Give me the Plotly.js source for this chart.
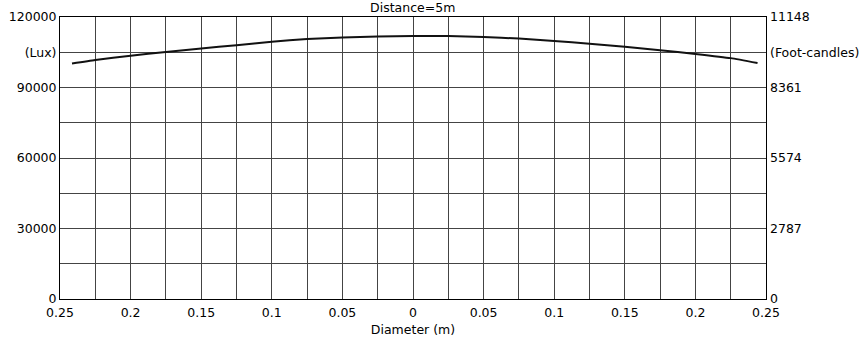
<!DOCTYPE html>
<html>
<head>
<meta charset="utf-8">
<script src="https://cdn.plot.ly/plotly-3.0.1.min.js"></script>
<style>html,body{margin:0;padding:0;background:#fff;}#chart{width:866px;height:345px;}</style>
</head>
<body>
<div id="chart"></div>
<script>
// Diameter positions (m, signed: left side negative) and illuminance (Lux)
const diameter = [-0.2415, -0.225, -0.2, -0.175, -0.15, -0.125, -0.1, -0.075, -0.05, -0.025, 0, 0.025, 0.05, 0.075, 0.1, 0.125, 0.15, 0.175, 0.2, 0.225, 0.244];
const lux = [100200, 101700, 103500, 105100, 106600, 108000, 109500, 110600, 111300, 111750, 111900, 111900, 111500, 110800, 109800, 108600, 107300, 105900, 104300, 102500, 100400];

const xTickVals = [-0.25, -0.225, -0.2, -0.175, -0.15, -0.125, -0.1, -0.075, -0.05, -0.025, 0, 0.025, 0.05, 0.075, 0.1, 0.125, 0.15, 0.175, 0.2, 0.225, 0.25];
const xTickText = ["0.25", "", "0.2", "", "0.15", "", "0.1", "", "0.05", "", "0", "", "0.05", "", "0.1", "", "0.15", "", "0.2", "", "0.25"];

const yTickVals = [0, 15000, 30000, 45000, 60000, 75000, 90000, 105000, 120000];
const luxTickText = ["0", "", "30000", "", "60000", "", "90000", "(Lux)", "120000"];
const fcTickVals = [0, 30000, 60000, 90000, 105000, 120000];
const fcTickText = ["0", "2787", "5574", "8361", "(Foot-candles)", "11148"];

const font = {family: "DejaVu Sans, Verdana, sans-serif", size: 12.5, color: "#000"};

const traces = [
  {x: diameter, y: lux, type: "scatter", mode: "lines", line: {color: "#111", width: 2, shape: "spline", smoothing: 0.5}, hoverinfo: "skip", showlegend: false},
  {x: [0], y: [null], yaxis: "y2", type: "scatter", mode: "lines", showlegend: false, hoverinfo: "skip"}
];

const layout = {
  width: 866, height: 345,
  margin: {l: 60, r: 100, t: 17, b: 46},
  paper_bgcolor: "#fff", plot_bgcolor: "#fff",
  font: font,
  showlegend: false,
  title: {text: "Distance=5m", font: font, x: 0.4766, xanchor: "center", y: 0.978, yanchor: "middle"},
  xaxis: {
    range: [-0.25, 0.25], tickmode: "array", tickvals: xTickVals, ticktext: xTickText,
    showgrid: true, gridcolor: "#444", gridwidth: 1, zeroline: false,
    showline: true, linecolor: "#000", linewidth: 1, mirror: true,
    ticks: "", ticklen: 0, tickfont: font, ticklabelstandoff: 2,
    title: {text: "Diameter (m)", font: font, standoff: 6}
  },
  yaxis: {
    range: [0, 120000], tickmode: "array", tickvals: yTickVals, ticktext: luxTickText,
    showgrid: true, gridcolor: "#444", gridwidth: 1, zeroline: false,
    showline: true, linecolor: "#000", linewidth: 1, mirror: true,
    ticks: "", ticklen: 0, tickfont: font
  },
  yaxis2: {
    range: [0, 120000], overlaying: "y", side: "right", tickmode: "array",
    tickvals: fcTickVals, ticktext: fcTickText, showgrid: false, zeroline: false,
    showline: false, ticks: "", ticklen: 0, tickfont: font, ticklabelstandoff: 3
  }
};

Plotly.newPlot("chart", traces, layout, {staticPlot: true, displayModeBar: false});
</script>
</body>
</html>
